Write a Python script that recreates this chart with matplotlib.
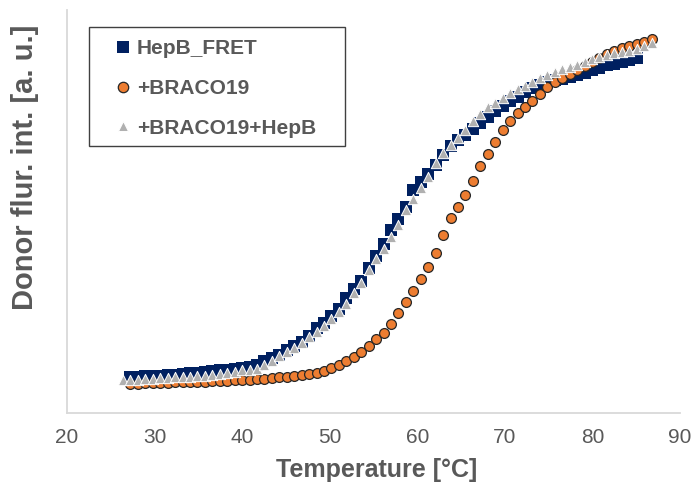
import matplotlib
matplotlib.use("Agg")
import matplotlib.pyplot as plt
from matplotlib.lines import Line2D
from matplotlib.patches import Rectangle

plt.rcParams['font.family'] = ['Liberation Sans', 'DejaVu Sans']

# temperature readings [°C]
temp = [26.40, 27.25, 28.10, 28.95, 29.80, 30.65, 31.50, 32.35, 33.20, 34.05,
        34.90, 35.75, 36.60, 37.45, 38.30, 39.15, 40.00, 40.85, 41.70, 42.55,
        43.40, 44.25, 45.10, 45.95, 46.80, 47.65, 48.50, 49.35, 50.20, 51.05,
        51.90, 52.75, 53.60, 54.45, 55.30, 56.15, 57.00, 57.85, 58.70, 59.55,
        60.40, 61.25, 62.10, 62.95, 63.80, 64.65, 65.50, 66.35, 67.20, 68.05,
        68.90, 69.75, 70.60, 71.45, 72.30, 73.15, 74.00, 74.85, 75.70, 76.55,
        77.40, 78.25, 79.10, 79.95, 80.80, 81.65, 82.50, 83.35, 84.20, 85.05,
        85.90, 86.75]

# donor fluorescence, arbitrary units
hepb_fret = [36, 36, 37, 37, 37, 38, 38, 39, 40,
             40, 41, 42, 43, 43, 44, 45, 46, 48, 52,
             55, 58, 63, 67, 71, 77, 85, 90, 97, 104,
             115, 124, 132, 145, 157, 169, 183, 194, 206, 223,
             231, 239, 248, 258, 267, 273, 278, 284, 290, 296,
             302, 307, 312, 316, 321, 325, 328, 331, 333, 334,
             336, 338, 340, 343, 345, 348, 349, 351, 353, 355]

braco19 = [29, 29, 30, 30, 30, 30, 31, 31, 31, 31,
           31, 32, 32, 32, 33, 33, 33, 34, 34, 35,
           36, 36, 37, 38, 39, 40, 42, 45, 48, 52,
           56, 61, 67, 74, 80, 89, 100, 111, 122, 134,
           146, 160, 178, 195, 206, 218, 232, 247, 259, 271,
           283, 292, 300, 306, 312, 319, 326, 331, 335, 339,
           343, 347, 351, 355, 359, 362, 365, 367, 369, 371,
           374]

braco19_hepb = [33, 33, 33, 34, 34, 35, 35, 36, 36, 36,
                37, 37, 38, 39, 40, 41, 43, 43, 44, 48,
                52, 57, 61, 65, 70, 76, 81, 87, 94, 101,
                109, 120, 130, 143, 154, 164, 176, 188, 203, 214,
                225, 236, 250, 260, 268, 275, 283, 292, 299, 306,
                310, 315, 320, 324, 327, 331, 335, 338, 341, 344,
                346, 348, 351, 354, 356, 358, 360, 361, 362, 364,
                367, 370]

labels = ['HepB_FRET', '+BRACO19', '+BRACO19+HepB']

GREY_TXT = '#595959'
W, H = 693, 483

fig = plt.figure(figsize=(W / 100, H / 100), dpi=100)
ax = fig.add_axes([67 / W, 70 / H, 613 / W, 403 / H])

ax.scatter(temp[1:1 + len(hepb_fret)], hepb_fret, marker='s', s=72,
           color='#002060', linewidths=0, zorder=3)
ax.scatter(temp[1:1 + len(braco19)], braco19, marker='o', s=50,
           color='#ED7D31', edgecolors='#262626', linewidths=0.9, zorder=4)
ax.scatter(temp[:len(braco19_hepb)], braco19_hepb, marker='^', s=55,
           color='#B0B0B0', edgecolors='white', linewidths=0.7, zorder=5)

ax.set_xlim(20, 90)
ax.set_ylim(0, 403)
ax.set_xticks(range(20, 91, 10))
ax.set_yticks([])
ax.tick_params(axis='x', length=0, pad=11, labelsize=15, labelcolor=GREY_TXT)
for s in ['top', 'right']:
    ax.spines[s].set_visible(False)
for s in ['left', 'bottom']:
    ax.spines[s].set_color('#D9D9D9')
    ax.spines[s].set_linewidth(1.3)

fig.text(377 / W, 1 - 470 / H, 'Temperature [°C]', ha='center', va='center',
         fontsize=18, fontweight='bold', color=GREY_TXT)
fig.text(25 / W, 1 - 167 / H, 'Donor flur. int. [a. u.]', ha='center',
         va='center', rotation=90, fontsize=21, fontweight='bold',
         color=GREY_TXT)

# legend box
fig.patches.append(Rectangle((89 / W, 1 - 146 / H), 256 / W, 119 / H,
                             transform=fig.transFigure, fill=False,
                             edgecolor='#404040', linewidth=1.0))
handles = [
    Line2D([], [], ls='', marker='s', ms=9, color='#002060', mew=0),
    Line2D([], [], ls='', marker='o', ms=7.5, color='#ED7D31',
           mec='#262626', mew=0.9),
    Line2D([], [], ls='', marker='^', ms=6.5, color='#B0B0B0',
           mec='white', mew=0.7),
]
leg = fig.legend(handles, labels, loc='upper left',
                 bbox_to_anchor=(114.7 / W, 1 - 39 / H), frameon=False,
                 borderpad=0, borderaxespad=0, handlelength=0.8,
                 handletextpad=0.27, labelspacing=1.0,
                 prop={'size': 15, 'weight': 'bold'})
for t in leg.get_texts():
    t.set_color(GREY_TXT)

fig.savefig('out.png', dpi=100)
